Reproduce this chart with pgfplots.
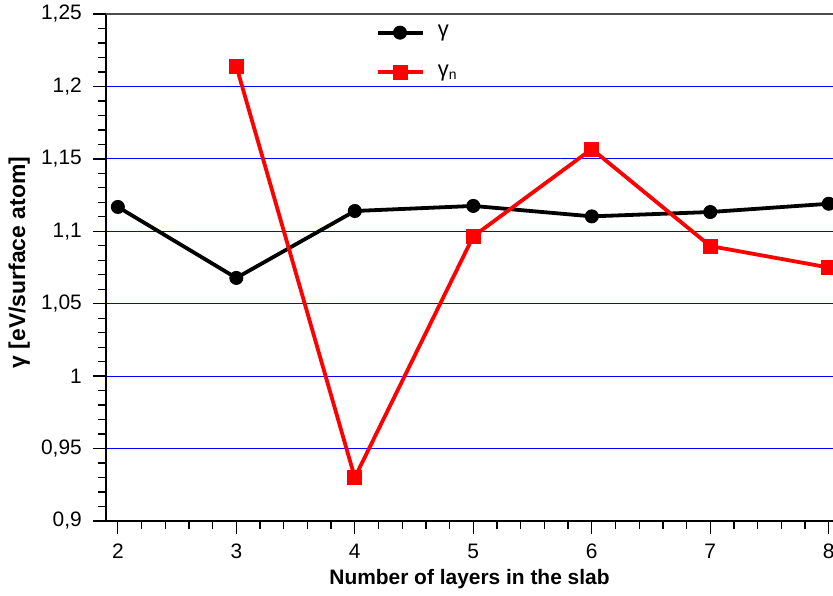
\documentclass[border=0pt]{standalone}
\usepackage{pgfplots}
\pgfplotsset{compat=1.18}
\usepackage{fontspec}
\setmainfont{Liberation Sans}
\begin{document}
\fontsize{21}{25}\selectfont
\begin{tikzpicture}
\begin{axis}[
  scale only axis, width=727bp, height=507bp,
  xmin=1.9, xmax=8.036, ymin=0.9, ymax=1.25,
  axis x line*=bottom, axis y line*=left,
  axis line style={line width=1.5pt, -},
  xtick={2,3,4,5,6,7,8}, minor x tick num=4,
  ytick={0.9,0.95,1,1.05,1.1,1.15,1.2,1.25}, minor y tick num=4,
  tick align=outside, major tick length=13bp, minor tick length=8bp,
  tick style={black, line width=1.3pt},
  ymajorgrids, major grid style={blue, line width=1pt},
  /pgf/number format/.cd, use comma, fixed, assume math mode=true,
  /pgfplots/.cd,
  tick label style={font=\fontsize{21}{25}\selectfont},
  yticklabel style={xshift=-4bp},
  xticklabel style={yshift=-3bp},
  xlabel style={font=\fontsize{21}{25}\selectfont\bfseries, yshift=4bp},
  ylabel style={font=\fontsize{23}{27}\selectfont\bfseries, yshift=-3bp, xshift=5bp},
  xlabel={Number of layers in the slab},
  ylabel={γ [eV/surface atom]},
  legend style={draw=none, fill=none, at={(0.367,0.986)}, anchor=north west, row sep=21bp, column sep=11bp, font=\fontsize{22}{26}\selectfont},
  legend cell align=left,
  legend image code/.code={\draw[mark repeat=2,mark phase=2,#1,line width=4bp] plot coordinates {(0bp,0bp) (22bp,0bp) (45bp,0bp)};},
]
\addplot[black, line width=3.8bp, mark=*, mark size=6.5bp, mark options={line width=1pt}] coordinates {
(2,1.1168) (3,1.0678) (4,1.1140) (5,1.1175) (6,1.1103) (7,1.1133) (8,1.1190)};
\addlegendentry{γ}
\addplot[red, line width=3.8bp, mark=square*, mark size=7bp, mark options={line width=1pt}] coordinates {
(3,1.2140) (4,0.9300) (5,1.0965) (6,1.1568) (7,1.0898) (8,1.0750)};
\addlegendentry{γ\raisebox{-0.25ex}{\fontsize{14}{16}\selectfont n}}
\draw[black!70, line width=1.5pt] (rel axis cs:0,1) -- (rel axis cs:1,1);
\coordinate (ll) at (rel axis cs:0,0);
\coordinate (ur) at (rel axis cs:1,1);
\end{axis}
\pgfresetboundingbox
\path ([shift={(-106bp,-75bp)}]ll) rectangle ([shift={(0bp,14bp)}]ur);
\end{tikzpicture}
\end{document}
